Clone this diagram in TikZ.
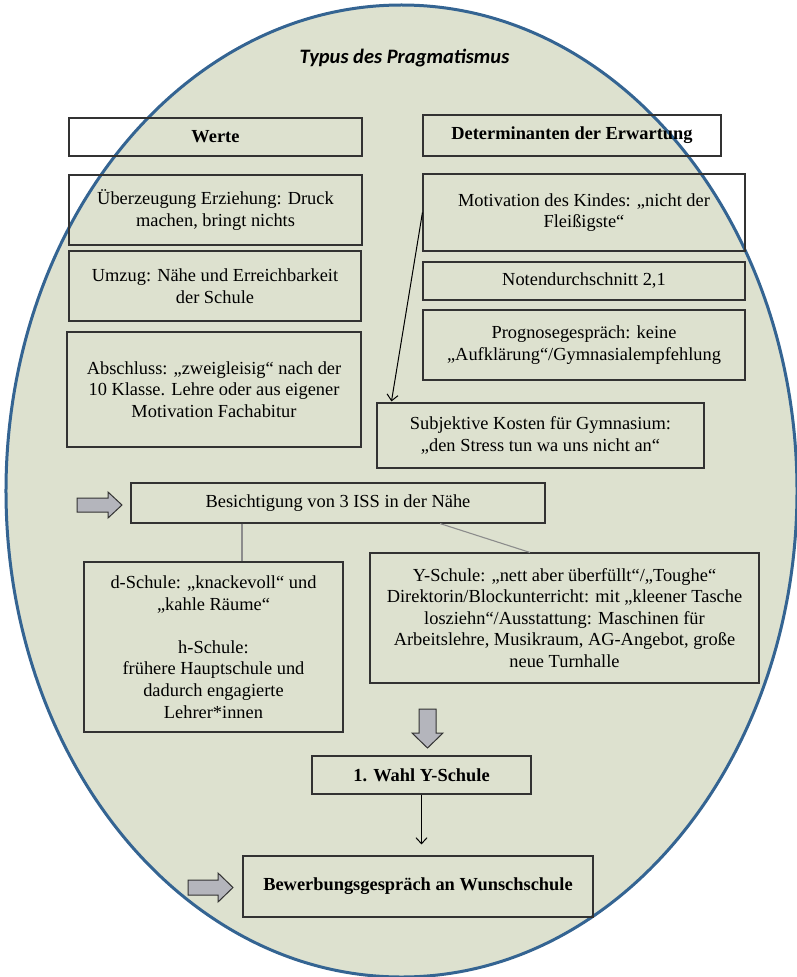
\documentclass[tikz,border=0pt]{standalone}
\usepackage{fontspec}
\setmainfont{Liberation Serif}
\newfontfamily\titlefont{Carlito}
\usetikzlibrary{arrows.meta,calc}
\definecolor{ellfill}{RGB}{221,225,207}
\definecolor{ellblue}{RGB}{52,100,146}
\definecolor{boxc}{RGB}{50,50,50}
\definecolor{glinec}{RGB}{140,140,140}
\definecolor{barrowc}{RGB}{180,181,188}
\newcommand{\bodyfs}{\fontsize{18.4bp}{21.6bp}\selectfont}
\tikzset{
  box/.style={draw=boxc, line width=1.1bp, align=center, inner sep=0pt, font=\bodyfs},
  boldbox/.style={box, font=\bodyfs\bfseries},
  gline/.style={draw=glinec, line width=1.1bp},
  conn/.style={draw=black, line width=1bp, -{Straight Barb[length=6bp,width=11bp]}},
  blockarrow/.style={fill=barrowc, draw=boxc, line width=1bp, line join=miter},
}
\begin{document}
\begin{tikzpicture}[x=1bp,y=-1bp]
\useasboundingbox (0,0) rectangle (797,977);
\fill[white] (0,0) rectangle (797,977);
\draw[fill=ellfill, draw=ellblue, line width=3bp] (401.5,491) ellipse [x radius=395.5bp, y radius=486bp];

\node[font=\titlefont\fontsize{20.5bp}{24bp}\selectfont\bfseries\itshape] (title) at (404.5,58) {Typus des Pragmatismus};

% left column
\node[boldbox, minimum width=293bp, minimum height=38bp] (werte) at (215.5,137) {Werte};
\node[box, minimum width=293bp, minimum height=70bp] (ueber) at (215.5,210) {Überzeugung Erziehung: Druck\\machen, bringt nichts};
\node[box, minimum width=292bp, minimum height=70bp] (umzug) at (215,286) {Umzug: Nähe und Erreichbarkeit\\der Schule};
\node[box, minimum width=294bp, minimum height=115bp] (absch) at (214,389.5) {Abschluss: „zweigleisig“ nach der\\10 Klasse. Lehre oder aus eigener\\Motivation Fachabitur};

% right column
\node[boldbox, minimum width=298bp, minimum height=41bp] (determ) at (572,135.5) {Determinanten der Erwartung};
\node[box, minimum width=322bp, minimum height=77bp] (motiv) at (584,212.5) {Motivation des Kindes: „nicht der\\Fleißigste“};
\node[box, minimum width=322bp, minimum height=38bp] (noten) at (584,281) {Notendurchschnitt 2,1};
\node[box, minimum width=322bp, minimum height=70bp] (progn) at (584,345) {Prognosegespräch: keine\\„Aufklärung“/Gymnasialempfehlung};
\node[box, minimum width=327bp, minimum height=65bp] (subj) at (540.5,435.5) {Subjektive Kosten für Gymnasium:\\„den Stress tun wa uns nicht an“};

% middle
\node[box, minimum width=414bp, minimum height=40bp] (besicht) at (338,503) {Besichtigung von 3 ISS in der Nähe};
\node[box, minimum width=259bp, minimum height=170bp] (dsch) at (213.5,647) {d-Schule: „knackevoll“ und\\„kahle Räume“\\[21.6bp]h-Schule:\\frühere Hauptschule und\\dadurch engagierte\\Lehrer*innen};
\node[box, minimum width=389bp, minimum height=130bp] (ysch) at (564.5,618) {Y-Schule: „nett aber überfüllt“/„Toughe“\\Direktorin/Blockunterricht: mit „kleener Tasche\\losziehn“/Ausstattung: Maschinen für\\Arbeitslehre, Musikraum, AG-Angebot, große\\neue Turnhalle};
\node[boldbox, minimum width=219bp, minimum height=38bp] (wahl) at (421.5,775) {1. Wahl Y-Schule};
\node[boldbox, minimum width=350bp, minimum height=61bp] (bewerb) at (418,886.5) {Bewerbungsgespräch an Wunschschule};

% connectors
\coordinate (subjin) at ($(subj.north west)+(15,-1)$);
\draw[conn] (motiv.west) -- (subjin);
\coordinate (d1) at ($(dsch.north)+(28.5,0)$);
\draw[gline] (d1 |- besicht.south) -- (d1);
\coordinate (b1) at ($(besicht.south)+(102,0)$);
\coordinate (y1) at ($(ysch.north)+(-34.5,0)$);
\draw[gline] (b1) -- (y1);
\draw[conn, shorten >=11bp] (wahl.south) -- (wahl.south |- bewerb.north);

% block arrows
\draw[blockarrow] (77,498) -- (108,498) -- (108,492) -- (122,505) -- (108,518) -- (108,512) -- (77,512) -- cycle;
\draw[blockarrow] (419,709) -- (436,709) -- (436,733) -- (443,733) -- (427.5,748) -- (412,733) -- (419,733) -- cycle;
\draw[blockarrow] (188,880) -- (218,880) -- (218,873) -- (233,887.5) -- (218,902) -- (218,895) -- (188,895) -- cycle;
\end{tikzpicture}
\end{document}
